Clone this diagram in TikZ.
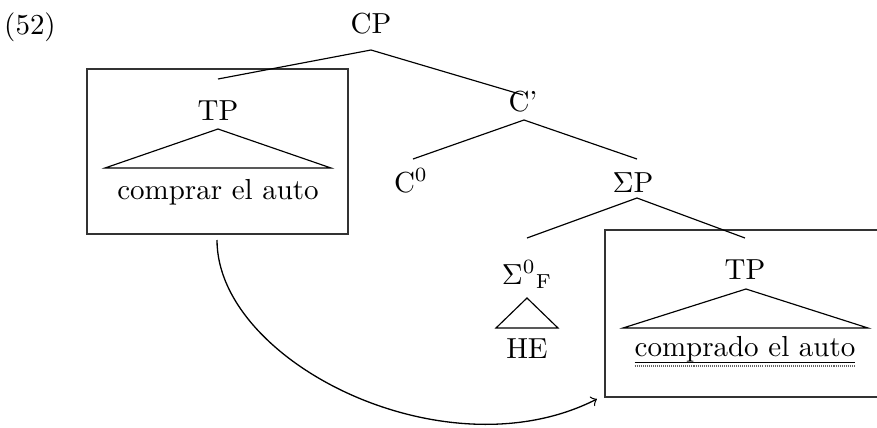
\documentclass[tikz,border=0pt]{standalone}
\usetikzlibrary{calc}
\begin{document}
\begin{tikzpicture}[x=0.345pt,y=-0.345pt,
  lbl/.style={anchor=base,inner sep=0pt,outer sep=0pt},
  edge/.style={line width=0.4pt},
  boxline/.style={line width=0.45pt,draw=black!80},
  tri/.style={line width=0.4pt}]
\useasboundingbox (0,0) rectangle (877,428);
% labels
\node[lbl] (ex) at (30,34) {(52)};
\node[lbl] (cp) at (371,33) {CP};
\node[lbl] (tpl) at (218,120) {TP};
\node[lbl] (cmpl) at (218,199) {comprar el auto};
\node[lbl] (cbar) at (523,111) {C'};
\node[lbl] (c0) at (411,192) {C$^0$};
\node[lbl] (sp) at (633,192) {$\Sigma$P};
\node[lbl] (s0) at (527,284) {${\Sigma^0}_{\mathrm{F}}$};
\node[lbl] (he) at (527,358) {HE};
\node[lbl] (tpr) at (745,279) {TP};
\node[lbl] (cmpr) at (745,356.5) {comprado el auto};
% boxes
\coordinate (bl1) at (87,69);
\coordinate (bl2) at (348,234);
\draw[boxline] (bl1) rectangle (bl2);
\coordinate (br1) at (605,230);
\coordinate (br2) at (880,397);
\draw[boxline] (br1) rectangle (br2);
% tree edges
\coordinate (cpT) at (371,50);
\coordinate (cpL) at (218,79);
\coordinate (cpR) at (523,95);
\draw[edge] (cpL) -- (cpT) -- (cpR);
\coordinate (cbT) at (524,120);
\coordinate (cbL) at (413,159);
\coordinate (cbR) at (637,159);
\draw[edge] (cbL) -- (cbT) -- (cbR);
\coordinate (spT) at (637,198);
\coordinate (spL) at (527,238);
\coordinate (spR) at (745,238);
\draw[edge] (spL) -- (spT) -- (spR);
% triangles
\coordinate (t1a) at (218,129);
\coordinate (t1l) at (105,168);
\coordinate (t1r) at (331,168);
\draw[tri] (t1a) -- (t1l) -- (t1r) -- cycle;
\coordinate (t2a) at (527,298);
\coordinate (t2l) at (496,328);
\coordinate (t2r) at (558,328);
\draw[tri] (t2a) -- (t2l) -- (t2r) -- cycle;
\coordinate (t3a) at (746,289);
\coordinate (t3l) at (623,328);
\coordinate (t3r) at (868,328);
\draw[tri] (t3a) -- (t3l) -- (t3r) -- cycle;
% underlines
\draw[line width=0.4pt] ($(cmpr.base west)+(0,6.2)$) -- ($(cmpr.base east)+(0,6.2)$);
\draw[line width=0.6pt,dash pattern=on 0.35pt off 0.35pt,black!60] ($(cmpr.base west)+(0,9.5)$) -- ($(cmpr.base east)+(0,9.5)$);
% movement arrow
\coordinate (mvS) at (217,240);
\coordinate (mvE) at (597,399);
\draw[line width=0.45pt,->] (mvS) .. controls (217,362) and (445,476) .. (mvE);
\end{tikzpicture}
\end{document}
